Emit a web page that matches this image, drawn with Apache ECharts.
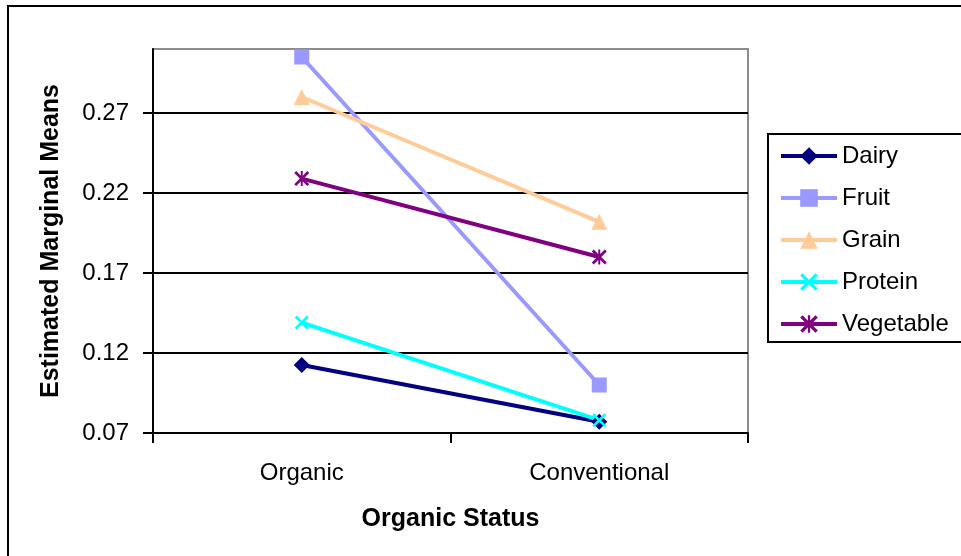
<!DOCTYPE html>
<html>
<head>
<meta charset="utf-8">
<title>Estimated Marginal Means by Organic Status</title>
<script src="https://cdn.jsdelivr.net/npm/echarts@6/dist/echarts.min.js"></script>
<style>
  html, body { margin: 0; padding: 0; background: #fff; }
  #chart { width: 961px; height: 556px; }
</style>
</head>
<body>
<div id="chart"></div>
<script>
// Categories on the x axis
const statusCategories = ['Organic', 'Conventional'];

// Estimated marginal means per food group (Organic, Conventional)
const dairy = [0.1125, 0.077];
const fruit = [0.305, 0.100];
const grain = [0.280, 0.202];
const protein = [0.139, 0.078];
const vegetable = [0.229, 0.180];

// Value axis range and step
const yMin = 0.07;
const yMax = 0.31;
const yStep = 0.05;

const FONT = '"Liberation Sans", Arial, sans-serif';

// Thick X and asterisk markers as filled outlines
const xMark = 'path://M0,1.3L1.3,0L5,3.7L8.7,0L10,1.3L6.3,5L10,8.7L8.7,10L5,6.3L1.3,10L0,8.7L3.7,5Z';
const starMark = 'path://M0,1.3L1.3,0L5,3.7L8.7,0L10,1.3L6.3,5L10,8.7L8.7,10L5,6.3L1.3,10L0,8.7L3.7,5Z' +
                 'M4.35,0L5.65,0L5.65,10L4.35,10Z';

function makeSeries(name, values, color, symbol, size) {
  return {
    name: name,
    type: 'line',
    data: values,
    symbol: symbol,
    symbolSize: size,
    lineStyle: { color: color, width: 4 },
    itemStyle: { color: color },
    emphasis: { disabled: true },
    animation: false
  };
}

const chart = echarts.init(document.getElementById('chart'), null, { renderer: 'canvas' });

chart.setOption({
  backgroundColor: '#ffffff',
  animation: false,
  textStyle: { fontFamily: FONT },
  graphic: [{
    type: 'rect',
    shape: { x: 8, y: 6, width: 1000, height: 600 },
    style: { fill: null, stroke: '#000', lineWidth: 2 },
    z: 100
  }],
  grid: {
    left: 153, top: 49, width: 595, height: 384,
    show: true, borderColor: '#8c8c8c', borderWidth: 2, backgroundColor: '#fff'
  },
  legend: {
    orient: 'vertical',
    left: 768, top: 134,
    padding: [10, 30, 6, 11],
    itemWidth: 56, itemHeight: 22, itemGap: 18,
    backgroundColor: '#fff',
    borderColor: '#000', borderWidth: 2, borderRadius: 0,
    lineStyle: { width: 4 },
    textStyle: { fontFamily: FONT, fontSize: 24, lineHeight: 24, color: '#000' },
    selectedMode: false,
    data: ['Dairy', 'Fruit', 'Grain', 'Protein', 'Vegetable']
  },
  xAxis: {
    type: 'category',
    data: statusCategories,
    boundaryGap: true,
    name: 'Organic Status',
    nameLocation: 'middle',
    nameGap: 74,
    nameTextStyle: { fontFamily: FONT, fontSize: 25, fontWeight: 'bold', color: '#000' },
    axisLine: { show: true, lineStyle: { color: '#000', width: 2 } },
    axisTick: { show: true, inside: false, length: 10, alignWithLabel: false, lineStyle: { color: '#000', width: 2 } },
    axisLabel: { margin: 28, fontFamily: FONT, fontSize: 24, color: '#000' },
    splitLine: { show: false }
  },
  yAxis: {
    type: 'value',
    min: yMin, max: yMax, interval: yStep,
    name: 'Estimated Marginal Means',
    nameLocation: 'middle',
    nameGap: 89,
    nameRotate: 90,
    nameTextStyle: { fontFamily: FONT, fontSize: 25, fontWeight: 'bold', color: '#000' },
    axisLine: { show: true, lineStyle: { color: '#000', width: 2 } },
    axisTick: { show: true, inside: false, length: 10, lineStyle: { color: '#000', width: 2 } },
    axisLabel: {
      margin: 24, fontFamily: FONT, fontSize: 24, color: '#000',
      showMaxLabel: false,
      formatter: function (v) { return v.toFixed(2); }
    },
    splitLine: { show: true, showMinLine: false, showMaxLine: false, lineStyle: { color: '#000', width: 2 } }
  },
  series: [
    makeSeries('Dairy', dairy, '#000080', 'diamond', 16),
    makeSeries('Fruit', fruit, '#9999FF', 'rect', 15),
    makeSeries('Grain', grain, '#FFCC99', 'triangle', 16),
    makeSeries('Protein', protein, '#00FFFF', xMark, 14),
    makeSeries('Vegetable', vegetable, '#800080', starMark, 15)
  ]
});
</script>
</body>
</html>
